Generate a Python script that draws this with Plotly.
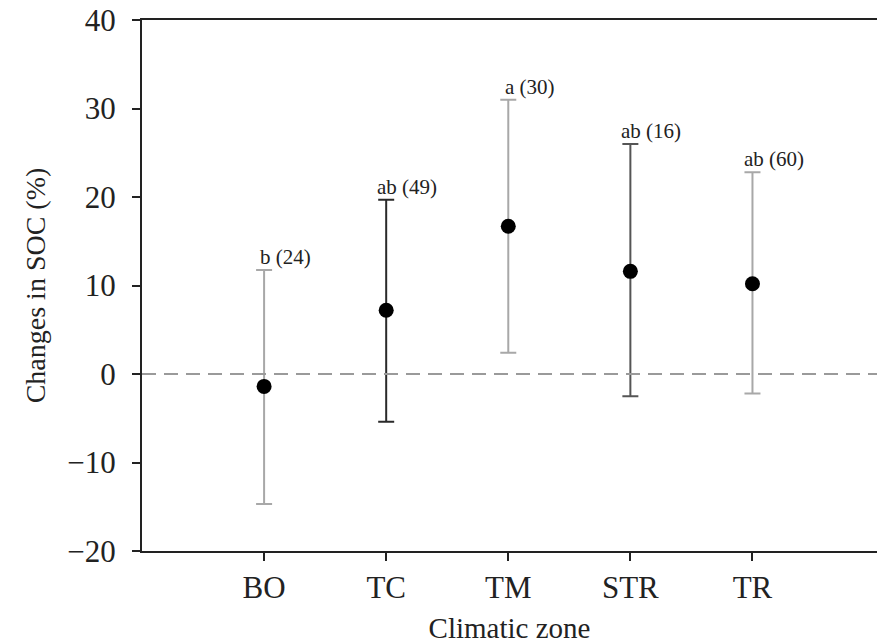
import plotly.graph_objects as go

zones = ["BO", "TC", "TM", "STR", "TR"]
means = [-1.4, 7.2, 16.7, 11.6, 10.2]
upper = [11.75, 19.7, 31.0, 26.0, 22.8]
lower = [-14.7, -5.4, 2.4, -2.5, -2.2]
letters = ["b", "ab", "a", "ab", "ab"]
counts = [24, 49, 30, 16, 60]
bar_colors = ["#a8a8a8", "#2a2a2a", "#a8a8a8", "#555555", "#a8a8a8"]

xpos = list(range(1, len(zones) + 1))
FONT = "Liberation Serif"
ANN_SIZE = 21
char_w = {"a": 0.444, "b": 0.5}

fig = go.Figure()
for i, z in enumerate(zones):
    fig.add_trace(go.Scatter(
        x=[xpos[i]], y=[means[i]], mode="markers",
        marker=dict(color="black", size=15),
        error_y=dict(type="data", symmetric=False,
                     array=[upper[i] - means[i]],
                     arrayminus=[means[i] - lower[i]],
                     color=bar_colors[i], thickness=2, width=8),
        showlegend=False, name=z,
    ))
    lw = sum(char_w[c] for c in letters[i]) * ANN_SIZE
    fig.add_annotation(
        x=xpos[i], y=upper[i], text=f"{letters[i]} ({counts[i]})",
        showarrow=False, xanchor="left", yanchor="bottom",
        xshift=-lw / 2 - 1, yshift=-1,
        font=dict(family=FONT, size=ANN_SIZE, color="#222"),
    )

fig.add_hline(y=0, line=dict(color="#9a9a9a", width=2, dash="14px,8px"))

fig.update_layout(
    width=877, height=644,
    margin=dict(l=142, r=0, t=20, b=93),
    plot_bgcolor="white", paper_bgcolor="white",
    font=dict(family=FONT, color="#222"),
)
fig.update_xaxes(
    range=[0, 6.02], tickvals=xpos, ticktext=zones,
    showgrid=False, zeroline=False,
    showline=True, linecolor="#222", linewidth=2, mirror=True,
    ticks="outside", ticklen=8, tickwidth=2, tickcolor="#222",
    tickfont=dict(family=FONT, size=31),
    title=dict(text="Climatic zone", font=dict(family=FONT, size=29), standoff=15),
)
fig.update_yaxes(
    range=[-20, 40], tickvals=[-20, -10, 0, 10, 20, 30, 40],
    ticktext=["\u221220", "\u221210", "0", "10", "20", "30", "40"],
    showgrid=False, zeroline=False,
    showline=True, linecolor="#222", linewidth=2,
    ticks="outside", ticklen=8, tickwidth=2, tickcolor="#222",
    ticklabelstandoff=10,
    tickfont=dict(family=FONT, size=31),
    title=dict(text="Changes in SOC (%)", font=dict(family=FONT, size=28), standoff=14),
)

fig.write_html("out.html")
